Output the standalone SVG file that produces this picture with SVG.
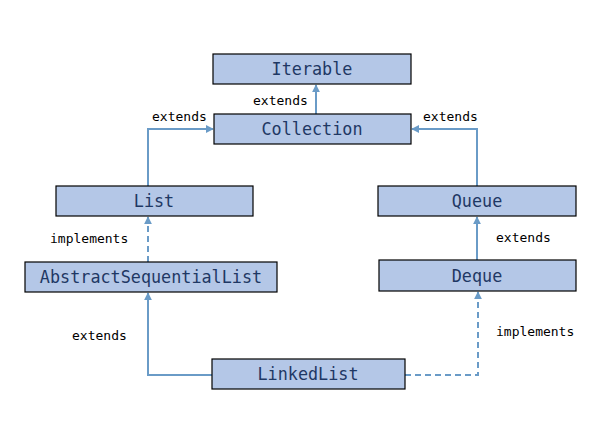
<svg xmlns="http://www.w3.org/2000/svg" width="612" height="440" viewBox="0 0 612 440">
<style>
.box{fill:#B4C7E7;stroke:#000;stroke-width:1.2}
.nt{font-family:"DejaVu Sans Mono","Liberation Mono",monospace;font-size:16.8px;fill:#1F3864;text-anchor:middle;dominant-baseline:central}
.lb{font-family:"DejaVu Sans Mono","Liberation Mono",monospace;font-size:13px;fill:#000}
.ln{fill:none;stroke:#6A9BC7;stroke-width:2}
.dash{stroke-dasharray:6,4}
</style>
<defs>
<marker id="ah" viewBox="0 0 10 10" refX="9" refY="5" markerWidth="4" markerHeight="4" orient="auto" markerUnits="strokeWidth">
<path d="M0,0 L10,5 L0,10 z" fill="#6A9BC7"/>
</marker>
</defs>
<rect width="612" height="440" fill="#fff"/>
<g id="connectors">
<path class="ln" d="M316,114 V85" marker-end="url(#ah)"/>
<path class="ln" d="M148,186 V129 H213" marker-end="url(#ah)"/>
<path class="ln" d="M477,186 V129 H412" marker-end="url(#ah)"/>
<path class="ln dash" d="M148,262 V217" marker-end="url(#ah)"/>
<path class="ln" d="M477,260 V217" marker-end="url(#ah)"/>
<path class="ln" d="M212,375 H148 V293" marker-end="url(#ah)"/>
<path class="ln dash" d="M405,375 H478 V292" marker-end="url(#ah)"/>
<text class="lb" x="253" y="105">extends</text>
<text class="lb" x="152" y="121">extends</text>
<text class="lb" x="423" y="121">extends</text>
<text class="lb" x="50" y="243">implements</text>
<text class="lb" x="496" y="242">extends</text>
<text class="lb" x="72" y="340">extends</text>
<text class="lb" x="496" y="336">implements</text>
</g>
<g id="Iterable"><rect class="box" x="213" y="54" width="198" height="30"/><text class="nt" x="312" y="69">Iterable</text></g>
<g id="Collection"><rect class="box" x="214" y="114" width="197" height="30"/><text class="nt" x="312" y="129">Collection</text></g>
<g id="List"><rect class="box" x="56" y="186" width="197" height="30"/><text class="nt" x="154" y="201">List</text></g>
<g id="Queue"><rect class="box" x="378" y="186" width="198" height="30"/><text class="nt" x="477" y="201">Queue</text></g>
<g id="AbstractSequentialList"><rect class="box" x="25" y="262" width="252" height="30"/><text class="nt" x="151" y="277">AbstractSequentialList</text></g>
<g id="Deque"><rect class="box" x="379" y="260" width="197" height="31"/><text class="nt" x="477" y="275.5">Deque</text></g>
<g id="LinkedList"><rect class="box" x="212" y="359" width="193" height="30"/><text class="nt" x="308" y="374">LinkedList</text></g>
</svg>
